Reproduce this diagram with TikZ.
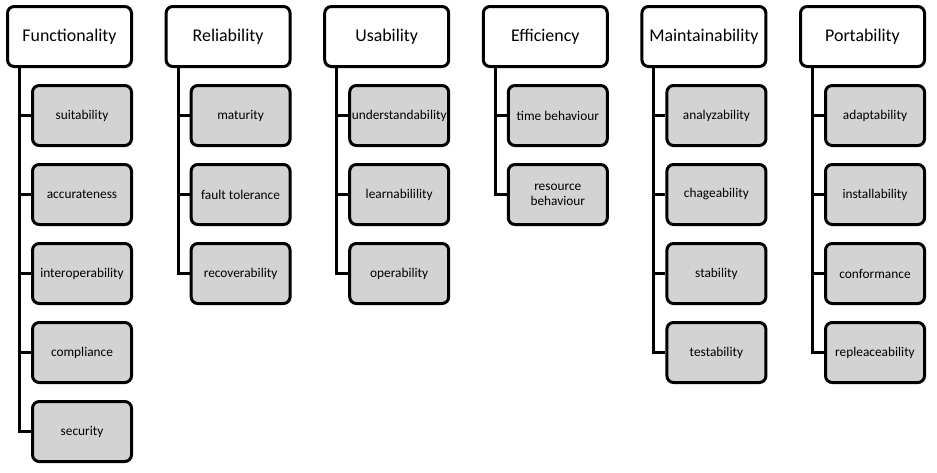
\documentclass[tikz,border=0pt]{standalone}
\usepackage{fontspec}
\setmainfont{Carlito}
\usetikzlibrary{positioning}
\definecolor{boxgray}{RGB}{211,211,211}
\tikzset{
  topbox/.style={draw,line width=2.25pt,rounded corners=5pt,fill=white,
    minimum width=93pt,minimum height=45pt,inner sep=0pt,font=\fontsize{13.4}{15}\selectfont},
  subbox/.style={draw,line width=2.25pt,rounded corners=5pt,fill=boxgray,
    minimum width=74.25pt,minimum height=45pt,inner sep=0pt,align=center,
    font=\fontsize{10}{11.5}\selectfont},
  conn/.style={line width=2.25pt}
}
\newcommand{\qualcol}[3]{
\node [topbox] (#1) at (69.5,36.5) {#2};
\foreach \sub [count=\i] in {#3} {
  \node [subbox] (#1\i) at (82,36.5+79*\i) {\sub};
  \draw[conn] ([xshift=10.1pt]#1.south west) |- (#1\i.west);
}
}
\begin{document}
\begin{tikzpicture}[x=0.75pt,y=-0.75pt]
\useasboundingbox (0,0) rectangle (937,472);
\qualcol{fun}{Functionality}{suitability,accurateness,interoperability,compliance,security}
\begin{scope}[xshift=118.95pt]
\qualcol{rel}{Reliability}{maturity,fault tolerance,recoverability}
\end{scope}
\begin{scope}[xshift=237.9pt]
\qualcol{usa}{Usability}{understandability,learnabilility,operability}
\end{scope}
\begin{scope}[xshift=356.85pt]
\qualcol{eff}{Efficiency}{time behaviour,{resource\\behaviour}}
\end{scope}
\begin{scope}[xshift=475.8pt]
\qualcol{mai}{Maintainability}{analyzability,chageability,stability,testability}
\end{scope}
\begin{scope}[xshift=594.75pt]
\qualcol{por}{Portability}{adaptability,installability,conformance,repleaceability}
\end{scope}
\end{tikzpicture}
\end{document}
